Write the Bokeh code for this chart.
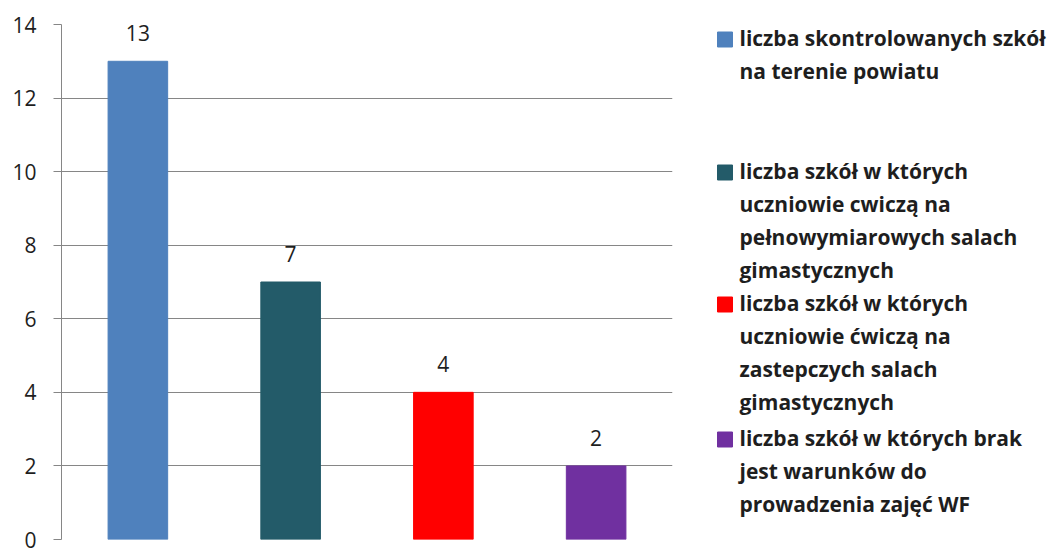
from bokeh.plotting import figure
from bokeh.layouts import row
from bokeh.models import FactorRange, Range1d, FixedTicker, ColumnDataSource
from bokeh.core.properties import value
from bokeh.embed import file_html
from bokeh.resources import INLINE

categories = [
    "liczba skontrolowanych szkół\nna terenie powiatu",
    "liczba szkół w których\nuczniowie cwiczą na\npełnowymiarowych salach\ngimastycznych",
    "liczba szkół w których\nuczniowie ćwiczą na\nzastepczych salach\ngimastycznych",
    "liczba szkół w których brak\njest warunków do\nprowadzenia zajęć WF",
]
values = [13, 7, 4, 2]
colors = ["#4F81BD", "#235B69", "#FF0000", "#7030A0"]
y_ticks = [0, 2, 4, 6, 8, 10, 12, 14]

FONT = "Open Sans"
GRID = "#868686"
TXT = "#1E1E1E"

keys = ["k%d" % i for i in range(len(categories))]
src = ColumnDataSource(dict(x=keys, top=values, color=colors,
                            label=[str(v) for v in values]))

p = figure(width=692, height=553, x_range=FactorRange(*keys), y_range=Range1d(0, 14),
           output_backend="svg", toolbar_location=None, title=None,
           min_border_left=61, min_border_right=20, min_border_top=24, min_border_bottom=14)
p.vbar(x="x", top="top", width=0.39, color="color", source=src)
p.text(x="x", y="top", text="label", source=src, y_offset=-28,
       text_align="center", text_baseline="alphabetic",
       text_font=value(FONT), text_font_size="21px", text_color=TXT)

p.xaxis.visible = False
p.xgrid.visible = False
p.ygrid.grid_line_color = GRID
p.ygrid.grid_line_width = 1
p.yaxis.ticker = FixedTicker(ticks=y_ticks)
p.yaxis.axis_line_color = GRID
p.yaxis.major_tick_line_color = GRID
p.yaxis.major_tick_out = 8
p.yaxis.major_tick_in = 0
p.yaxis.minor_tick_line_color = None
p.yaxis.major_label_standoff = 17
p.yaxis.major_label_text_font = FONT
p.yaxis.major_label_text_font_size = "21px"
p.yaxis.major_label_text_color = TXT
p.outline_line_color = None
p.background_fill_color = "white"

# legend panel (frame aligned with main plot frame: y 24..539)
legend_y = [39, 172, 304, 439]
lg = figure(width=364, height=553, x_range=Range1d(0, 364), y_range=Range1d(539, 24),
            output_backend="svg", toolbar_location=None, title=None,
            x_axis_location=None, y_axis_location=None,
            min_border_left=0, min_border_right=0, min_border_top=24, min_border_bottom=14)
lsrc = ColumnDataSource(dict(y=legend_y, color=colors, label=categories))
lg.scatter(x=32.5, y="y", marker="square", size=15, color="color", source=lsrc)
lg.text(x=47, y="y", text="label", source=lsrc, text_align="left", text_baseline="top",
        y_offset=-16, text_font=value(FONT), text_font_size="21px", text_font_style="bold",
        text_color=TXT, text_line_height=1.18)
lg.grid.visible = False
lg.outline_line_color = None

layout = row(p, lg, spacing=0)
open("out.html", "w").write(file_html(layout, INLINE))
